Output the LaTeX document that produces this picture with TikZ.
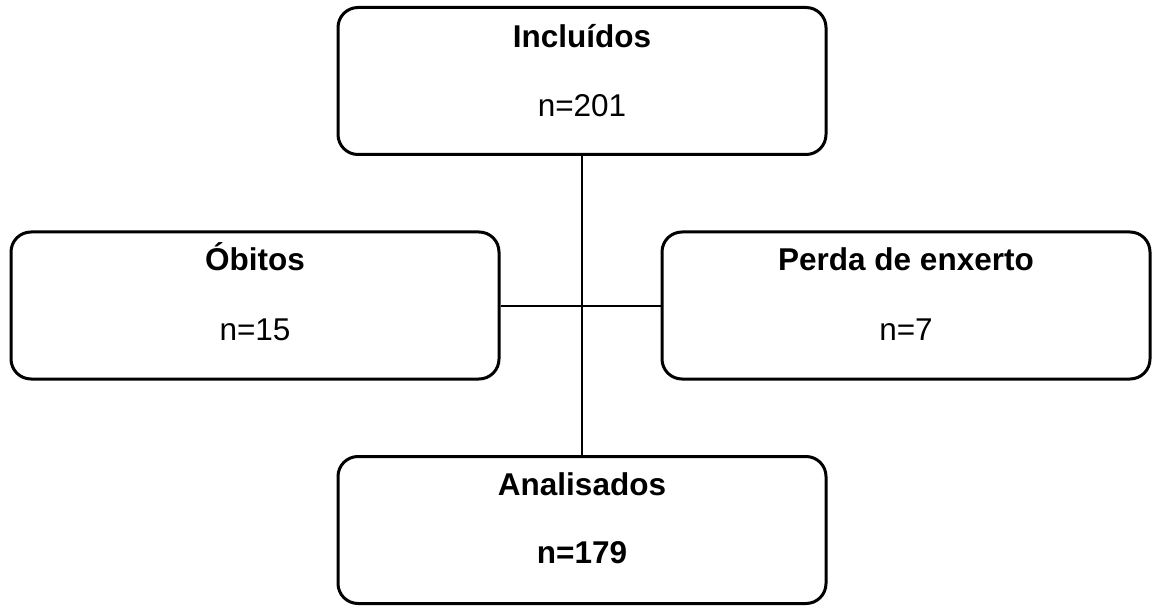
\documentclass[tikz,border=0pt]{standalone}
\usepackage{fontspec}
\setmainfont{Liberation Sans}
\usepackage{tikz}

\tikzset{
  box/.style = {draw, line width=3pt, rounded corners=20pt, minimum width=488pt,
                minimum height=147pt, inner sep=0pt},
  title/.style = {anchor=base, font=\fontsize{31.5}{37}\selectfont\bfseries},
  count/.style = {anchor=base, font=\fontsize{31.5}{37}\selectfont},
  link/.style = {line width=2pt}
}

\begin{document}
\begin{tikzpicture}[x=1pt, y=1pt, node distance = 449pt]
      \useasboundingbox (0,0) rectangle (1153,606);
      \node[box] (inc) at (582,525) {};
      \node[box] (ana) [below of=inc] {};
      \node[box] (obi) at (255,300.5) {};
      \node[box] (per) at (906,300.5) {};

      \node[title] (incT) at ([yshift=-42pt]inc.north) {Incluídos};
      \node[count] (incN) at ([yshift=-111pt]inc.north) {n=201};
      \node[title] (obiT) at ([yshift=-40pt]obi.north) {Óbitos};
      \node[count] (obiN) at ([yshift=-110pt]obi.north) {n=15};
      \node[title] (perT) at ([yshift=-40pt]per.north) {Perda de enxerto};
      \node[count] (perN) at ([yshift=-110pt]per.north) {n=7};
      \node[title] (anaT) at ([yshift=-40pt]ana.north) {Analisados};
      \node[title] (anaN) at ([yshift=-108pt]ana.north) {n=179};

      \draw[link] (inc.south) -- (ana.north);
      \draw[link] (obi.east) -- (per.west);
      \end{tikzpicture}
\end{document}
